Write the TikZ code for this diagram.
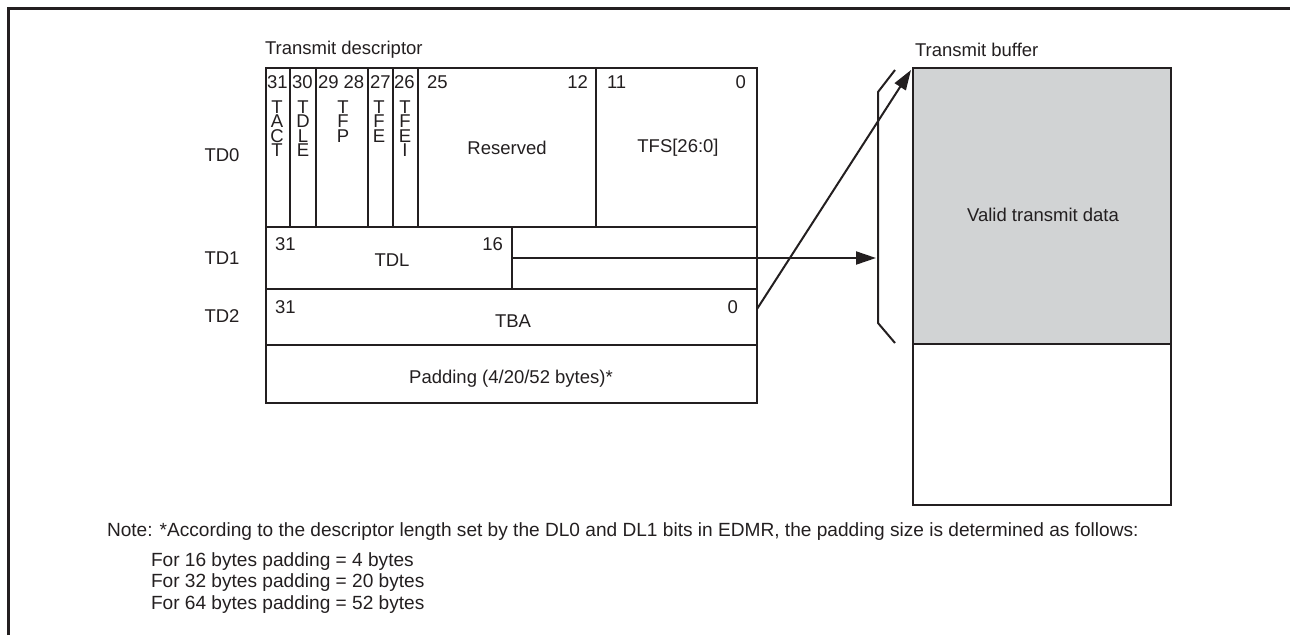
\documentclass[tikz,border=0pt]{standalone}
\usepackage{fontspec}
\setmainfont{Liberation Sans}
\usetikzlibrary{arrows.meta}
\definecolor{ink}{HTML}{231F20}
\definecolor{bufgray}{HTML}{D1D3D4}
\newcommand\fsz{\fontsize{18.5}{19}\selectfont}
\newcommand\fnote{\fontsize{19.1}{20}\selectfont}
\tikzset{
  txt/.style={inner sep=0pt, outer sep=0pt, font=\fsz, text=ink},
  notetxt/.style={inner sep=0pt, outer sep=0pt, font=\fnote, text=ink, anchor=west},
  boxline/.style={draw=ink, line width=2pt},
  frameline/.style={draw=ink, line width=3pt},
  conn/.style={draw=ink, line width=2pt, -{Triangle[length=20pt,width=13pt]}},
}
\begin{document}
\begin{tikzpicture}[x=1pt,y=-1pt]
\useasboundingbox (0,0) rectangle (1290,635);
% frame
\draw[frameline] (8,635) -- (8,8) -- (1290,8);
% descriptor
\draw[boxline] (266,68) rectangle (757,403);
\draw[boxline] (266,227) -- (757,227) (266,289) -- (757,289) (266,345) -- (757,345);
\foreach \x in {290,316,368,393,418,596} \draw[boxline] (\x,68) -- (\x,227);
\draw[boxline] (512,227) -- (512,289);
% titles
\node[txt, anchor=west] (tdesc) at (265,50) {Transmit descriptor};
\node[txt, anchor=west] (tbuf) at (915,50) {Transmit buffer};
\node[txt] (td0) at (222,155) {TD0};
\node[txt] (td1) at (222,258) {TD1};
\node[txt] (td2) at (222,316) {TD2};
% TD0 bit numbers
\node[txt, anchor=west] (b31) at (267,82) {31};
\node[txt, anchor=west] (b30) at (292,82) {30};
\node[txt, anchor=west] (b2928) at (318,82) {29 28};
\node[txt, anchor=west] (b27) at (370,82) {27};
\node[txt, anchor=west] (b26) at (394,82) {26};
\node[txt, anchor=west] (b25) at (427,82) {25};
\node[txt, anchor=east] (b12) at (588,82) {12};
\node[txt, anchor=west] (b11) at (607,82) {11};
\node[txt, anchor=east] (b0) at (746,82) {0};
% vertical field names (one letter per node)
\foreach \l [count=\i] in {T,A,C,T} \node[txt] (tact\i) at (277,{107+(\i-1)*14.5}) {\l};
\foreach \l [count=\i] in {T,D,L,E} \node[txt] (tdle\i) at (303,{107+(\i-1)*14.5}) {\l};
\foreach \l [count=\i] in {T,F,P} \node[txt] (tfp\i) at (343,{107+(\i-1)*14.5}) {\l};
\foreach \l [count=\i] in {T,F,E} \node[txt] (tfe\i) at (379,{107+(\i-1)*14.5}) {\l};
\foreach \l [count=\i] in {T,F,E,I} \node[txt] (tfei\i) at (405,{107+(\i-1)*14.5}) {\l};
\node[txt] (res) at (507,148) {Reserved};
\node[txt] (tfs) at (678,148) {TFS[26:0]};
% TD1
\node[txt, anchor=west] (d131) at (275,244) {31};
\node[txt, anchor=east] (d116) at (503,244) {16};
\node[txt] (tdl) at (392,260) {TDL};
% TD2
\node[txt, anchor=west] (d231) at (275,307) {31};
\node[txt, anchor=east] (d20) at (738,307) {0};
\node[txt] (tba) at (513,321) {TBA};
% padding
\node[txt] (pad) at (511,379) {Padding (4/20/52 bytes)*};
% buffer
\fill[bufgray] (913,68) rectangle (1171,344);
\draw[boxline] (913,68) rectangle (1171,505);
\draw[boxline] (913,344) -- (1171,344);
\node[txt] (valid) at (1043,215) {Valid transmit data};
\coordinate (buftop) at (911,70);
% bracket
\draw[boxline] (895,70) -- (878,92) -- (878,323) -- (895,343);
\coordinate (brk) at (876,258);
% connectors
\coordinate (td1src) at (512,258);
\coordinate (td2src) at (757,309);
\draw[conn] (td1src) -- (brk);
\draw[conn] (td2src) -- (buftop);
% note
\node[notetxt] (note) at (107,532) {Note: *According to the descriptor length set by the DL0 and DL1 bits in EDMR, the padding size is determined as follows:};
\node[notetxt] (n1) at (151,562) {For 16 bytes padding = 4 bytes};
\node[notetxt] (n2) at (151,583) {For 32 bytes padding = 20 bytes};
\node[notetxt] (n3) at (151,605) {For 64 bytes padding = 52 bytes};
\end{tikzpicture}
\end{document}
